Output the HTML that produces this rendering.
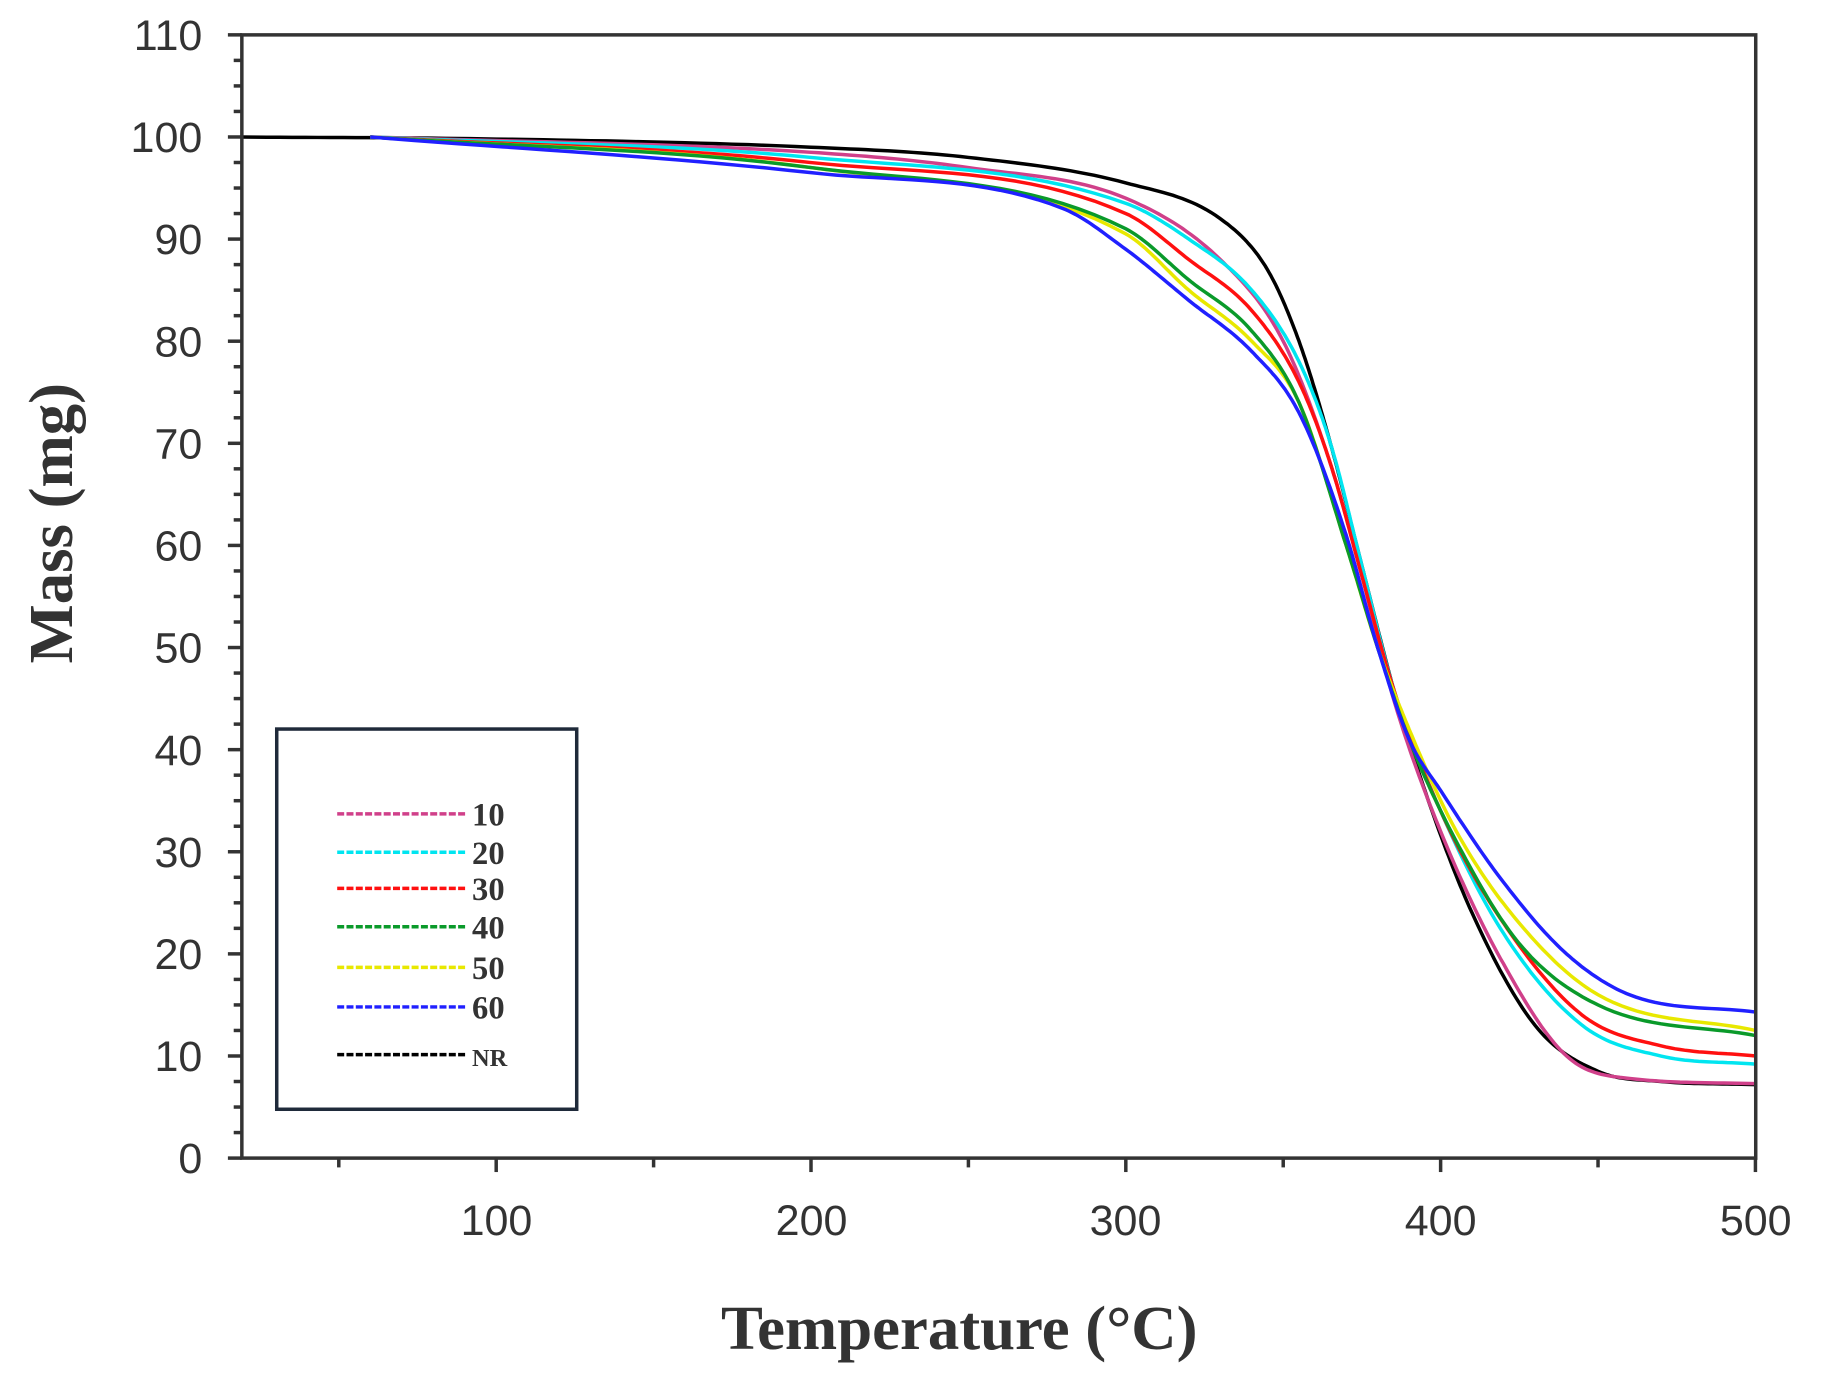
<!DOCTYPE html>
<html><head><meta charset="utf-8"><style>html,body{margin:0;padding:0;background:#fff;}svg{display:block}</style></head>
<body>
<svg id="s" width="1822" height="1386" viewBox="0 0 1567 1192" preserveAspectRatio="none" xmlns="http://www.w3.org/2000/svg">
<rect x="0" y="0" width="1567" height="1192" fill="#fff"/>
<g id="ticks" stroke="#333" stroke-width="3"></g>
<g id="curves" fill="none" stroke-width="3"></g>
<rect x="208" y="30" width="1302" height="966" fill="none" stroke="#333" stroke-width="3"/>
<g font-family="Liberation Sans, Arial, sans-serif" font-size="37" fill="#333" text-anchor="end" id="ylab"></g>
<g font-family="Liberation Sans, Arial, sans-serif" font-size="37" fill="#333" text-anchor="middle">
<text x="427" y="1062">100</text><text x="698" y="1062">200</text><text x="968" y="1062">300</text><text x="1239" y="1062">400</text><text x="1510" y="1062">500</text>
</g>
<text x="825" y="1160" font-family="Liberation Serif, serif" font-weight="bold" font-size="54" fill="#333" text-anchor="middle">Temperature (°C)</text>
<text transform="translate(62,450) rotate(-90)" font-family="Liberation Serif, serif" font-weight="bold" font-size="54" fill="#333" text-anchor="middle">Mass (mg)</text>
<rect x="238" y="627" width="258" height="327" fill="#fff" stroke="#1f2a3a" stroke-width="3"/>
<g id="leg" font-family="Liberation Serif, serif" font-weight="bold" font-size="28" fill="#333"></g>
</svg>
<script>
const NS="http://www.w3.org/2000/svg";
const X=t=>156+t*2.7075, Y=m=>996-m*8.782;
const tk=document.getElementById('ticks'), yl=document.getElementById('ylab');
function line(g,x1,y1,x2,y2,a){const l=document.createElementNS(NS,'line');l.setAttribute('x1',x1);l.setAttribute('y1',y1);l.setAttribute('x2',x2);l.setAttribute('y2',y2);if(a)for(const k in a)l.setAttribute(k,a[k]);g.appendChild(l);}
for(let m=0;m<=110;m+=2.5){const y=Y(m);const maj=m%10===0;line(tk,maj?196:201,y,208,y);}
for(let m=0;m<=110;m+=10){const t=document.createElementNS(NS,'text');t.setAttribute('x',174);t.setAttribute('y',Y(m)+13);t.textContent=m;yl.appendChild(t);}
for(let T=50;T<=500;T+=50){const x=X(T);line(tk,x,996,x,T%100===0?1008:1004);}
const S=[
["#000",[[19,100],[100,99.8],[200,99],[250,98],[300,95.5],[330,92],[345,87],[355,80],[365,70],[375,58],[385,46],[395,36],[410,24],[430,13],[450,8.5],[470,7.5],[500,7.2]]],
["#d0408a",[[60,100],[200,98.5],[250,97],[300,94],[330,88],[350,80],[365,68],[375,57],[385,45],[400,32],[420,19],[440,10],[460,7.8],[500,7.3]]],
["#00e5f0",[[60,100],[200,98],[300,93.5],[320,90],[340,85],[355,78],[365,70],[375,58],[385,46],[400,34],[420,22],[445,13],[470,10],[500,9.2]]],
["#ff1010",[[60,100],[200,97.5],[300,92.5],[320,88],[340,83],[355,76],[365,68],[375,57],[385,46],[400,34],[420,23],[445,14],[470,11],[500,10]]],
["#e8e800",[[60,100],[200,97],[300,90.5],[320,85],[340,80],[355,74],[370,60],[380,50],[390,42],[405,32],[425,23],[450,16],[500,12.5]]],
["#0a9a2a",[[60,100],[200,97],[300,91],[320,86],[340,81],[355,74],[370,60],[380,50],[390,41],[405,31],[425,21],[450,15],[500,12]]],
["#2020ff",[[60,100],[200,96.5],[280,93],[300,89],[320,84],[340,79],[355,73],[370,61],[380,50],[390,41],[400,36],[420,27],[440,20],[460,16],[500,14.3]]]];
const cg=document.getElementById('curves');
function mono(p){const n=p.length,x=p.map(q=>q[0]),y=p.map(q=>q[1]);const d=[],m=[];
for(let i=0;i<n-1;i++)d.push((y[i+1]-y[i])/(x[i+1]-x[i]));
m[0]=d[0];m[n-1]=d[n-2];for(let i=1;i<n-1;i++){m[i]=d[i-1]*d[i]<=0?0:(d[i-1]+d[i])/2;}
for(let i=0;i<n-1;i++){if(d[i]===0){m[i]=m[i+1]=0;continue;}const a=m[i]/d[i],b=m[i+1]/d[i],s=a*a+b*b;if(s>9){const t=3/Math.sqrt(s);m[i]=t*a*d[i];m[i+1]=t*b*d[i];}}
const pts=[];for(let i=0;i<n-1;i++){const h=x[i+1]-x[i];for(let k=0;k<20;k++){const t=k/20,h00=2*t*t*t-3*t*t+1,h10=t*t*t-2*t*t+t,h01=-2*t*t*t+3*t*t,h11=t*t*t-t*t;pts.push([x[i]+t*h,h00*y[i]+h10*h*m[i]+h01*y[i+1]+h11*h*m[i+1]]);}}
pts.push(p[n-1]);return pts;}
for(const [c,p] of S){const P=mono(p);const d='M'+P.map(q=>X(q[0]).toFixed(1)+','+Y(q[1]).toFixed(1)).join(' L');
const pa=document.createElementNS(NS,'path');pa.setAttribute('d',d);pa.setAttribute('stroke',c);cg.appendChild(pa);}
const L=[["#d0408a","10",700],["#00e5f0","20",733],["#ff1010","30",764],["#0a9a2a","40",797],["#e8e800","50",832],["#2020ff","60",866],["#000","NR",907]];
const lg=document.getElementById('leg');
for(const [c,t,y] of L){line(lg,290,y,400,y,{stroke:c,'stroke-width':3,'stroke-dasharray':'6 2'});const e=document.createElementNS(NS,'text');e.setAttribute('x',406);e.setAttribute('y',y+10);if(t==='NR')e.setAttribute('font-size','21');e.textContent=t;lg.appendChild(e);}
</script>
</body></html>
